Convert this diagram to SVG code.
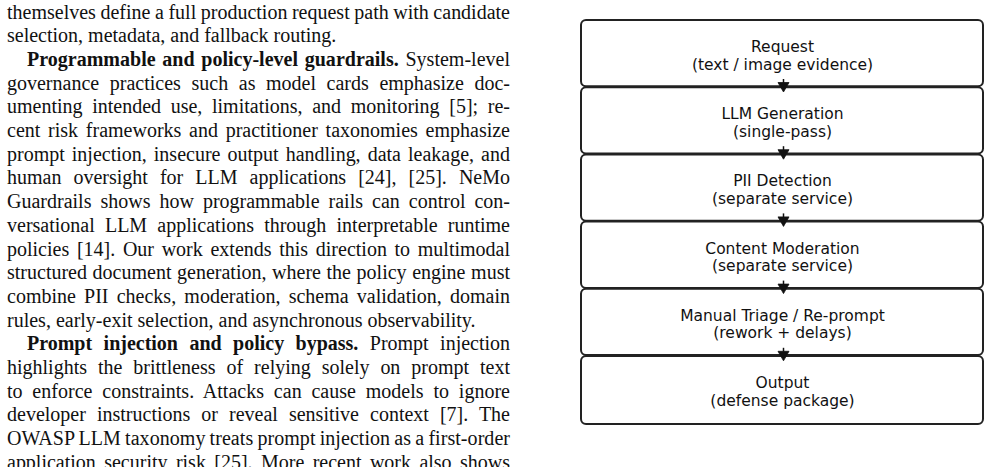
<svg xmlns="http://www.w3.org/2000/svg" width="995" height="467" viewBox="0 0 995 467">
<defs>
<style>
.body{font-family:"Liberation Serif","Times New Roman",serif;font-size:20px;fill:#111;}
.b{font-weight:bold;}
.box{fill:#fff;stroke:#222;stroke-width:2;}
.lbl{font-family:"DejaVu Sans",sans-serif;font-size:15.5px;fill:#111;text-anchor:middle;}
.conn{stroke:#111;stroke-width:1.5;fill:none;}
.head{fill:#111;stroke:#111;stroke-width:0.8;stroke-linejoin:miter;}
</style>
</defs>
<rect width="995" height="467" fill="#fff"/>
<g id="body-text" class="body">
<text x="7" y="18.5" textLength="503" lengthAdjust="spacing" style="word-spacing:-0.45px">themselves define a full production request path with candidate</text>
<text x="7" y="42.2">selection, metadata, and fallback routing.</text>
<text x="27" y="65.9" textLength="483" lengthAdjust="spacing" style="word-spacing:1.7px"><tspan class="b">Programmable and policy-level guardrails.</tspan> System-level</text>
<text x="7" y="89.6" textLength="503" lengthAdjust="spacing" style="word-spacing:5.6px">governance practices such as model cards emphasize doc-</text>
<text x="7" y="113.3" textLength="503" lengthAdjust="spacing" style="word-spacing:4.64px">umenting intended use, limitations, and monitoring [5]; re-</text>
<text x="7" y="137" textLength="503" lengthAdjust="spacing" style="word-spacing:2.73px">cent risk frameworks and practitioner taxonomies emphasize</text>
<text x="7" y="160.7" textLength="503" lengthAdjust="spacing" style="word-spacing:2.03px">prompt injection, insecure output handling, data leakage, and</text>
<text x="7" y="184.4" textLength="503" lengthAdjust="spacing" style="word-spacing:7.03px">human oversight for LLM applications [24], [25]. NeMo</text>
<text x="7" y="208.1" textLength="503" lengthAdjust="spacing" style="word-spacing:4.01px">Guardrails shows how programmable rails can control con-</text>
<text x="7" y="231.8" textLength="503" lengthAdjust="spacing" style="word-spacing:5.16px">versational LLM applications through interpretable runtime</text>
<text x="7" y="255.5" textLength="503" lengthAdjust="spacing" style="word-spacing:2.67px">policies [14]. Our work extends this direction to multimodal</text>
<text x="7" y="279.2" textLength="503" lengthAdjust="spacing" style="word-spacing:0.6px">structured document generation, where the policy engine must</text>
<text x="7" y="302.9" textLength="503" lengthAdjust="spacing" style="word-spacing:3.2px">combine PII checks, moderation, schema validation, domain</text>
<text x="7" y="326.6">rules, early-exit selection, and asynchronous observability.</text>
<text x="27" y="350.3" textLength="483" lengthAdjust="spacing" style="word-spacing:6.5px"><tspan class="b">Prompt injection and policy bypass.</tspan> Prompt injection</text>
<text x="7" y="374" textLength="503" lengthAdjust="spacing" style="word-spacing:5.93px">highlights the brittleness of relying solely on prompt text</text>
<text x="7" y="397.7" textLength="503" lengthAdjust="spacing" style="word-spacing:4.76px">to enforce constraints. Attacks can cause models to ignore</text>
<text x="7" y="421.4" textLength="503" lengthAdjust="spacing" style="word-spacing:6px">developer instructions or reveal sensitive context [7]. The</text>
<text x="7" y="445.1" textLength="503" lengthAdjust="spacing" style="word-spacing:-0.86px">OWASP LLM taxonomy treats prompt injection as a first-order</text>
<text x="7" y="468.8" textLength="503" lengthAdjust="spacing" style="word-spacing:3.4px">application security risk [25]. More recent work also shows</text>
</g>
<g id="node-request">
<rect class="box" x="581" y="20" width="402" height="66.3" rx="5"/>
<text class="lbl" x="782.5" y="52">Request</text>
<text class="lbl" x="782.5" y="69.5">(text / image evidence)</text>
</g>
<g id="node-llm">
<rect class="box" x="581" y="87.2" width="402" height="66.3" rx="5"/>
<text class="lbl" x="782.5" y="119.2">LLM Generation</text>
<text class="lbl" x="782.5" y="136.7">(single-pass)</text>
</g>
<g id="node-pii">
<rect class="box" x="581" y="154.4" width="402" height="66.3" rx="5"/>
<text class="lbl" x="782.5" y="186.4">PII Detection</text>
<text class="lbl" x="782.5" y="203.9">(separate service)</text>
</g>
<g id="node-moderation">
<rect class="box" x="581" y="221.6" width="402" height="66.3" rx="5"/>
<text class="lbl" x="782.5" y="253.6">Content Moderation</text>
<text class="lbl" x="782.5" y="271.1">(separate service)</text>
</g>
<g id="node-triage">
<rect class="box" x="581" y="288.8" width="402" height="66.3" rx="5"/>
<text class="lbl" x="782.5" y="320.8">Manual Triage / Re-prompt</text>
<text class="lbl" x="782.5" y="338.3">(rework + delays)</text>
</g>
<g id="node-output">
<rect class="box" x="581" y="356" width="402" height="68" rx="5"/>
<text class="lbl" x="782.5" y="388">Output</text>
<text class="lbl" x="782.5" y="405.5">(defense package)</text>
</g>
<g id="connectors">
<g id="edge-1"><line class="conn" x1="783.5" y1="79" x2="783.5" y2="83"/><polygon class="head" points="778,82.5 789,82.5 783.5,92"/></g>
<g id="edge-2"><line class="conn" x1="783.5" y1="146.2" x2="783.5" y2="150.2"/><polygon class="head" points="778,149.7 789,149.7 783.5,159.2"/></g>
<g id="edge-3"><line class="conn" x1="783.5" y1="213.4" x2="783.5" y2="217.4"/><polygon class="head" points="778,216.9 789,216.9 783.5,226.4"/></g>
<g id="edge-4"><line class="conn" x1="783.5" y1="280.6" x2="783.5" y2="284.6"/><polygon class="head" points="778,284.1 789,284.1 783.5,293.6"/></g>
<g id="edge-5"><line class="conn" x1="783.5" y1="347.8" x2="783.5" y2="351.8"/><polygon class="head" points="778,351.3 789,351.3 783.5,360.8"/></g>
</g>
</svg>
